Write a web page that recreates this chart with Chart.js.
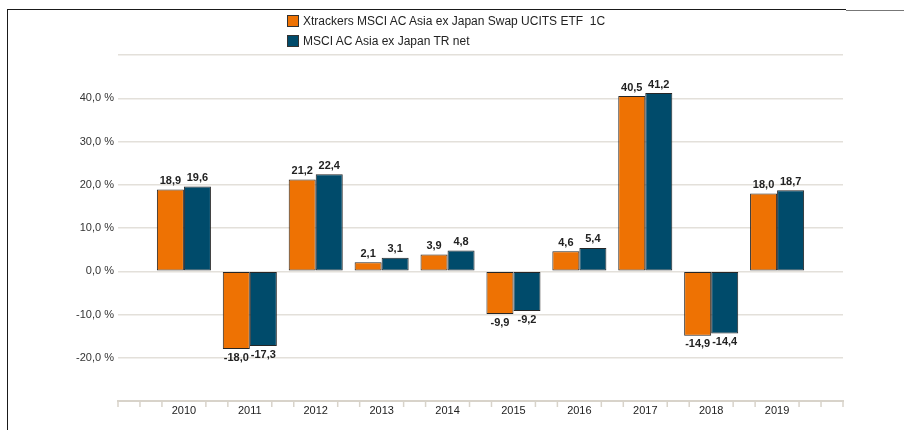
<!DOCTYPE html>
<html>
<head>
<meta charset="utf-8">
<script src="https://cdn.jsdelivr.net/npm/chart.js@4"></script>
<style>
  html, body { margin: 0; padding: 0; background: #fff; }
  #wrap { position: relative; width: 904px; height: 430px; overflow: hidden; }
  #chart { position: absolute; left: 0; top: 0; }
  .frame-top { position: absolute; left: 7px; top: 8.5px; width: 839px; height: 1.5px; background: #1a1a1a; }
  .frame-top-end { position: absolute; left: 846px; top: 9.5px; width: 58px; height: 1.5px; background: #777; }
  .frame-left { position: absolute; left: 6.5px; top: 8.5px; width: 1.5px; height: 430px; background: #1a1a1a; }
  #legend { position: absolute; left: 287px; top: 11px; font-family: "Liberation Sans", Arial, sans-serif; font-size: 12px; color: #222; }
  #legend .item { display: flex; align-items: center; height: 20px; white-space: pre; }
  #legend .box { width: 10px; height: 10px; border: 1px solid #333; margin-right: 4px; }
</style>
</head>
<body>
<div id="wrap">
  <canvas id="chart" width="904" height="430"></canvas>
  <div class="frame-top"></div>
  <div class="frame-top-end"></div>
  <div class="frame-left"></div>
  <div id="legend"></div>
</div>
<script>
// Chart data
const years = ["2010", "2011", "2012", "2013", "2014", "2015", "2016", "2017", "2018", "2019"];
const etfReturns = [18.9, -18.0, 21.2, 2.1, 3.9, -9.9, 4.6, 40.5, -14.9, 18.0];
const indexReturns = [19.6, -17.3, 22.4, 3.1, 4.8, -9.2, 5.4, 41.2, -14.4, 18.7];
const seriesNames = ["Xtrackers MSCI AC Asia ex Japan Swap UCITS ETF  1C", "MSCI AC Asia ex Japan TR net"];
const yTicks = [-20, -10, 0, 10, 20, 30, 40];

const ORANGE = "#ee7203";
const BLUE = "#004b6b";
const GRID = "#e3e0da";
const AXIS = "#d8d3ca";

// German style number: 18,9
function fmt(v) {
  return v.toFixed(1).replace(".", ",");
}

// Empty slot on each side so the axis runs a full category past the bars
const labels = [""].concat(years, [""]);
const pad = (arr) => [null].concat(arr, [null]);

/**
 * Value labels above / below each bar
 */
const valueLabels = {
  id: "valueLabels",
  afterDatasetsDraw(chart) {
    const ctx = chart.ctx;
    ctx.save();
    ctx.font = "bold 11px 'Liberation Sans', Arial, sans-serif";
    ctx.fillStyle = "#222";
    ctx.textAlign = "center";
    chart.data.datasets.forEach((ds, di) => {
      const meta = chart.getDatasetMeta(di);
      meta.data.forEach((bar, i) => {
        const v = ds.data[i];
        if (v === null || v === undefined) return;
        if (v >= 0) {
          ctx.textBaseline = "bottom";
          ctx.fillText(fmt(v), bar.x, bar.y - 3);
        } else {
          ctx.textBaseline = "top";
          ctx.fillText(fmt(v), bar.x, bar.y + 3);
        }
      });
    });
    ctx.restore();
  },
};

/**
 * Small tick marks under the category axis (three per category)
 */
const axisTicks = {
  id: "axisTicks",
  afterDraw(chart) {
    const xs = chart.scales.x;
    const ctx = chart.ctx;
    const n = (labels.length - 1) * 3;
    const step = (xs.right - xs.left) / n;
    ctx.save();
    ctx.strokeStyle = AXIS;
    ctx.lineWidth = 1.5;
    for (let i = 0; i <= n; i++) {
      if (i % 3 === 0 && i > 0 && i < n) continue;
      const x = xs.left + i * step;
      ctx.beginPath();
      ctx.moveTo(x, xs.top);
      ctx.lineTo(x, xs.top + 6);
      ctx.stroke();
    }
    ctx.restore();
  },
};

const chart = new Chart(document.getElementById("chart"), {
  type: "bar",
  data: {
    labels: labels,
    datasets: [
      {
        label: seriesNames[0],
        data: pad(etfReturns),
        backgroundColor: ORANGE,
        borderColor: "#262626",
        borderWidth: 1,
        borderSkipped: false,
      },
      {
        label: seriesNames[1],
        data: pad(indexReturns),
        backgroundColor: BLUE,
        borderColor: "#262626",
        borderWidth: 1,
        borderSkipped: false,
      },
    ],
  },
  options: {
    responsive: false,
    animation: false,
    layout: { padding: { top: 55, right: 61, left: 0, bottom: 0 } },
    datasets: { bar: { categoryPercentage: 0.82, barPercentage: 1 } },
    scales: {
      x: {
        offset: false,
        grid: { display: false, drawTicks: false },
        border: { color: AXIS, width: 2 },
        ticks: {
          padding: 3,
          color: "#222",
          maxRotation: 0,
          autoSkip: false,
          font: { family: "'Liberation Sans', Arial, sans-serif", size: 11 },
        },
        afterFit(scale) {
          scale.height = 29;
        },
      },
      y: {
        min: -30,
        max: 50,
        ticks: {
          stepSize: 10,
          padding: 4,
          color: "#333",
          font: { family: "'Liberation Sans', Arial, sans-serif", size: 11 },
          callback: (v) => (yTicks.includes(v) ? fmt(v) + " %" : ""),
        },
        grid: {
          drawTicks: false,
          lineWidth: 1.5,
          color: (c) => (c.tick && c.tick.value === -30 ? "rgba(0,0,0,0)" : GRID),
        },
        border: { display: false },
        afterFit(scale) {
          scale.width = 118;
        },
      },
    },
    plugins: {
      legend: { display: false },
      tooltip: { enabled: false },
    },
  },
  plugins: [valueLabels, axisTicks],
});

// Legend built from the chart's own datasets
const legendEl = document.getElementById("legend");
chart.data.datasets.forEach((ds) => {
  const item = document.createElement("div");
  item.className = "item";
  const box = document.createElement("span");
  box.className = "box";
  box.style.background = ds.backgroundColor;
  item.appendChild(box);
  item.appendChild(document.createTextNode(ds.label));
  legendEl.appendChild(item);
});
</script>
</body>
</html>
